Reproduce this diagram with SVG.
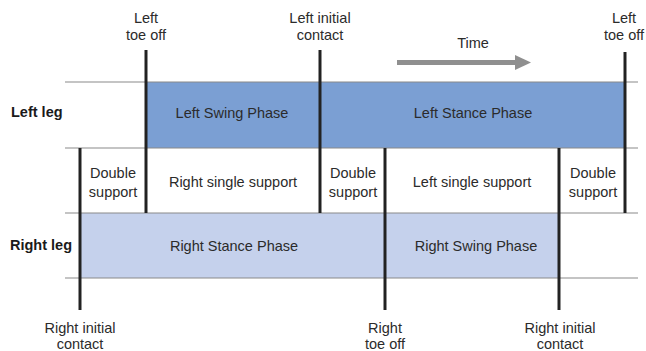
<svg xmlns="http://www.w3.org/2000/svg" width="646" height="351" viewBox="0 0 646 351">
<style>
text{font-family:"Liberation Sans",Arial,sans-serif;font-size:14.5px;fill:#2b2b2b;text-anchor:middle}
.b{font-weight:bold;text-anchor:start;fill:#1a1a1a}
.h{stroke:#8a8a8a;stroke-width:1.2;fill:none}
.v{stroke:#222;stroke-width:3;fill:none}
</style>
<rect width="646" height="351" fill="#fff"/>
<g id="left-swing"><rect x="146" y="82" width="174" height="66" fill="#7b9fd3"/><text x="232" y="118">Left Swing Phase</text></g>
<g id="left-stance"><rect x="320" y="82" width="305" height="66" fill="#7b9fd3"/><text x="473" y="118">Left Stance Phase</text></g>
<g id="right-stance"><rect x="80" y="213" width="305" height="65" fill="#c5d1ec"/><text x="234" y="251">Right Stance Phase</text></g>
<g id="right-swing"><rect x="385" y="213" width="174" height="65" fill="#c5d1ec"/><text x="476" y="251">Right Swing Phase</text></g>
<g id="connectors">
<line class="h" x1="65" y1="82" x2="638" y2="82"/>
<line class="h" x1="65" y1="148" x2="638" y2="148"/>
<line class="h" x1="65" y1="213" x2="638" y2="213"/>
<line class="h" x1="65" y1="278" x2="638" y2="278"/>
<line class="v" x1="80" y1="148" x2="80" y2="310"/>
<line class="v" x1="146" y1="50" x2="146" y2="213"/>
<line class="v" x1="320" y1="50" x2="320" y2="213"/>
<line class="v" x1="385" y1="148" x2="385" y2="310"/>
<line class="v" x1="559" y1="148" x2="559" y2="310"/>
<line class="v" x1="625" y1="52" x2="625" y2="213"/>
</g>
<g id="time-arrow"><rect x="397" y="60" width="119" height="5" fill="#8f8f8f"/><polygon points="515,55 531,62.5 515,70" fill="#8f8f8f"/><text x="473" y="48">Time</text></g>
<g id="left-leg-label"><text class="b" x="11" y="117">Left leg</text></g>
<g id="right-leg-label"><text class="b" x="10" y="250">Right leg</text></g>
<g id="ds1"><text x="113" y="178">Double</text><text x="113" y="197">support</text></g>
<g id="rss"><text x="233" y="187">Right single support</text></g>
<g id="ds2"><text x="353" y="178">Double</text><text x="353" y="197">support</text></g>
<g id="lss"><text x="472" y="187">Left single support</text></g>
<g id="ds3"><text x="593" y="178">Double</text><text x="593" y="197">support</text></g>
<g id="lto1"><text x="146" y="23">Left</text><text x="146" y="40">toe off</text></g>
<g id="lic"><text x="320" y="23">Left initial</text><text x="320" y="40">contact</text></g>
<g id="lto2"><text x="624" y="23">Left</text><text x="624" y="40">toe off</text></g>
<g id="ric1"><text x="80" y="333">Right initial</text><text x="80" y="349">contact</text></g>
<g id="rto"><text x="385" y="333">Right</text><text x="385" y="349">toe off</text></g>
<g id="ric2"><text x="560" y="333">Right initial</text><text x="560" y="349">contact</text></g>
</svg>
